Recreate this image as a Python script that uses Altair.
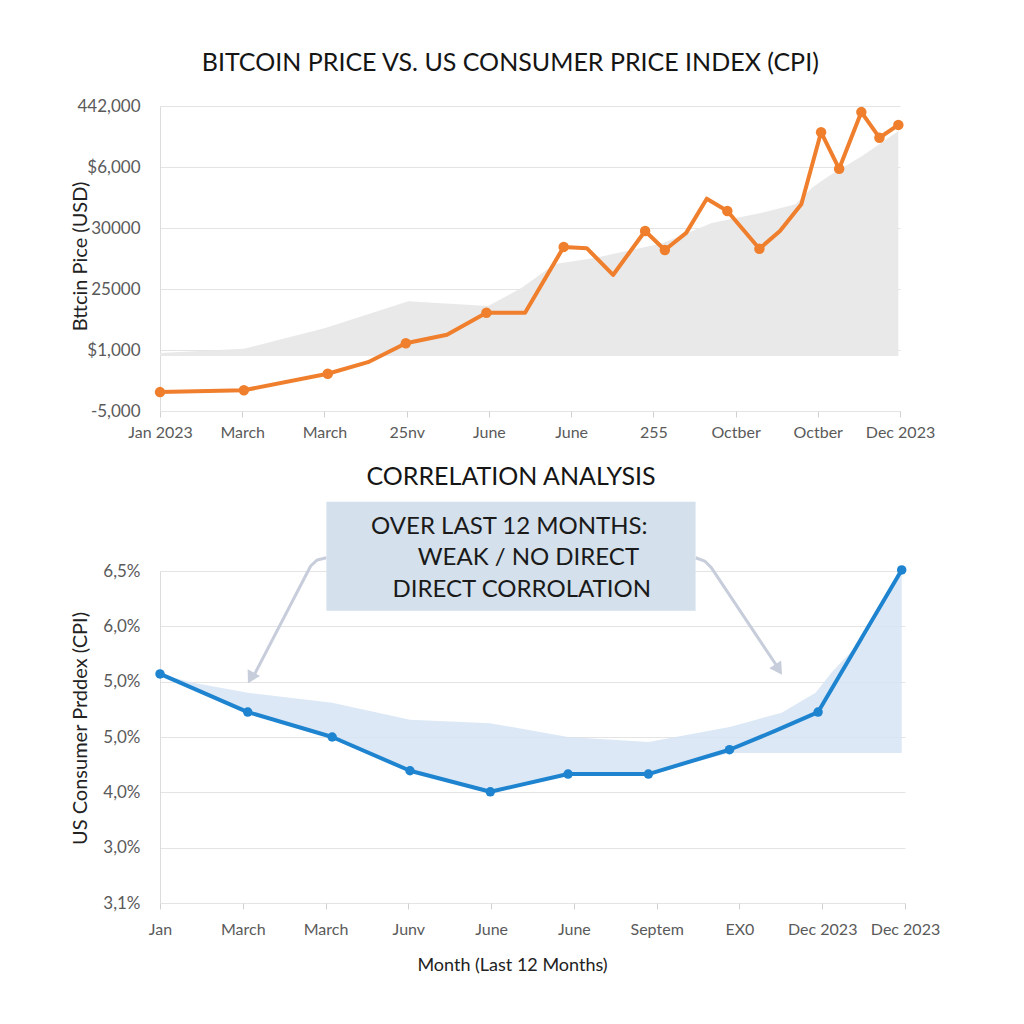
import altair as alt
import pandas as pd

# ---------------- data (positions in axis-index units) ----------------
# top chart: y is measured in tick-index units (0 = "-5,000" ... 5 = "442,000")
top_xlabels = ["Jan 2023", "March", "March", "25nv", "June", "June", "255", "Octber", "Octber", "Dec 2023"]
top_ylabels = ["-5,000", "$1,000", "25000", "30000", "$6,000", "442,000"]

btc_x = [0, 1.02, 2.04, 2.53, 2.99, 3.49, 3.97, 4.44, 4.91, 5.19, 5.51, 5.90, 6.14, 6.40,
         6.65, 6.90, 7.29, 7.54, 7.80, 8.04, 8.26, 8.53, 8.75, 8.98]
btc_y = [0.31, 0.34, 0.61, 0.80, 1.11, 1.25, 1.61, 1.61, 2.69, 2.67, 2.23, 2.95, 2.64, 2.92,
         3.48, 3.28, 2.66, 2.95, 3.39, 4.57, 3.97, 4.90, 4.48, 4.69]
btc_marker = [1, 1, 1, 0, 1, 0, 1, 0, 1, 0, 0, 1, 1, 0,
              0, 1, 1, 0, 0, 1, 1, 1, 1, 1]

grey_x = [0, 1.02, 2.01, 3.02, 3.99, 4.40, 4.80, 5.29, 6.11, 6.71, 7.32, 7.73, 7.93, 8.13, 8.54, 8.98]
grey_top = [0.95, 1.02, 1.36, 1.80, 1.72, 2.02, 2.41, 2.51, 2.75, 3.08, 3.25, 3.39, 3.66, 3.85, 4.18, 4.59]
grey_base = 0.90

# bottom chart: y in tick-index units (0 = "3,1%" ... 6 = "6,5%")
bot_xlabels = ["Jan", "March", "March", "Junv", "June", "June", "Septem", "EX0", "Dec 2023", "Dec 2023"]
bot_ylabels = ["3,1%", "3,0%", "4,0%", "5,0%", "5,0%", "6,0%", "6,5%"]

cpi_x = [0, 1.06, 2.08, 3.02, 3.99, 4.93, 5.90, 6.88, 7.43, 7.95, 8.96]
cpi_y = [4.14, 3.45, 3.00, 2.39, 2.01, 2.33, 2.33, 2.77, 3.11, 3.45, 6.02]
cpi_marker = [1, 1, 1, 1, 1, 1, 1, 1, 0, 1, 1]

band_x = [0, 0.40, 1.06, 2.08, 3.02, 3.99, 4.93, 5.90, 6.88, 7.05, 7.51, 7.92, 8.11, 8.52, 8.96]
band_top = [4.14, 3.98, 3.80, 3.62, 3.31, 3.25, 3.00, 2.91, 3.18, 3.25, 3.44, 3.80, 4.16, 4.81, 5.97]
band_low = [4.14, 3.87, 3.45, 3.00, 2.39, 2.01, 2.33, 2.33, 2.71, 2.71, 2.71, 2.71, 2.71, 2.71, 2.71]

box_lines = ["OVER LAST 12 MONTHS:", "WEAK / NO DIRECT", "DIRECT CORROLATION"]
box_line_x = [4.22, 4.45, 4.37]
box_line_y = [6.80, 6.24, 5.66]
box_x, box_x2, box_y, box_y2 = 2.01, 6.47, 7.25, 5.28

arrow_id = ["L", "L", "L", "L", "R", "R", "R", "R"]
arrow_order = [0, 1, 2, 3, 0, 1, 2, 3]
arrow_x = [2.01, 1.90, 1.82, 1.12, 6.47, 6.58, 6.66, 7.44]
arrow_y = [6.24, 6.20, 6.09, 4.07, 6.24, 6.18, 6.06, 4.31]
head_x = [1.11, 7.46]
head_y = [4.10, 4.25]
head_angle = [208.7, 146.6]

TITLE1 = "BITCOIN PRICE VS. US CONSUMER PRICE INDEX (CPI)"
TITLE2 = "CORRELATION ANALYSIS"

FONT = "Lato"
LABEL_COLOR = "#5a5a5a"
GRID = "#e4e4e4"
ORANGE = "#ef7f2d"
BLUE = "#1f84d0"

# ---------------- top chart ----------------
def lab_expr(labels):
    return "[" + ",".join("'" + s + "'" for s in labels) + "][datum.value]"

x_top = alt.X("x:Q", scale=alt.Scale(domain=[0, 9], nice=False, zero=False),
              axis=alt.Axis(values=list(range(10)), labelExpr=lab_expr(top_xlabels), grid=False,
                            domain=False, ticks=True, tickSize=6, tickColor="#d0d0d0",
                            labelOverlap=False, labelFlush=False, labelFont=FONT, labelFontSize=16,
                            labelColor=LABEL_COLOR, labelPadding=7, title=None))
y_top = alt.Y("y:Q", scale=alt.Scale(domain=[0, 5], nice=False, zero=False),
              axis=alt.Axis(values=list(range(6)), labelExpr=lab_expr(top_ylabels), grid=True,
                            gridColor=GRID, domain=True, domainColor="#dcdcdc", ticks=False,
                            labelPadding=20, labelFont=FONT, labelFontSize=17, labelColor=LABEL_COLOR,
                            title="Bttcin Pice (USD)", titleX=-70, titleY=150, titleAngle=270,
                            titleBaseline="bottom", titleAlign="center", titleFont=FONT,
                            titleFontSize=20, titleFontWeight="normal", titleColor="#222222"))

btc_df = pd.DataFrame({"x": btc_x, "y": btc_y, "m": btc_marker})
grey_df = pd.DataFrame({"x": grey_x, "y": grey_top, "y2": [grey_base] * len(grey_x)})
t1_df = pd.DataFrame({"x": [4.26], "y": [5.70], "t": [TITLE1]})

grey_area = alt.Chart(grey_df).mark_area(color="#e8e8e8", opacity=0.95).encode(
    x=x_top, y=y_top, y2=alt.Y2("y2:Q"))
btc_line = alt.Chart(btc_df).mark_line(color=ORANGE, strokeWidth=4, strokeJoin="round").encode(
    x=x_top, y=y_top)
btc_pts = alt.Chart(btc_df).transform_filter("datum.m == 1").mark_circle(
    color=ORANGE, size=110, opacity=1).encode(x=x_top, y=y_top)
t1 = alt.Chart(t1_df).mark_text(font=FONT, fontSize=25, color="#151515", align="center",
                                baseline="middle").encode(x=x_top, y=y_top, text="t:N")

top = alt.layer(grey_area, btc_line, btc_pts, t1).properties(width=740, height=305)

# ---------------- bottom chart ----------------
x_bot = alt.X("x:Q", scale=alt.Scale(domain=[0, 9], nice=False, zero=False),
              axis=alt.Axis(values=list(range(10)), labelExpr=lab_expr(bot_xlabels), grid=False,
                            domain=False, ticks=True, tickSize=6, tickColor="#d0d0d0",
                            labelOverlap=False, labelFlush=False, labelFont=FONT, labelFontSize=16,
                            labelColor=LABEL_COLOR, labelPadding=12,
                            title="Month (Last 12 Months)", titleX=352, titleY=62,
                            titleAlign="center", titleBaseline="middle", titleFont=FONT,
                            titleFontSize=18, titleFontWeight="normal", titleColor="#222222"))
y_bot = alt.Y("y:Q", scale=alt.Scale(domain=[0, 6], nice=False, zero=False),
              axis=alt.Axis(values=list(range(7)), labelExpr=lab_expr(bot_ylabels), grid=True,
                            gridColor=GRID, domain=True, domainColor="#dcdcdc", ticks=False,
                            labelPadding=20, labelFont=FONT, labelFontSize=17, labelColor=LABEL_COLOR,
                            title="US Consumer Prddex (CPI)", titleX=-70, titleY=157, titleAngle=270,
                            titleBaseline="bottom", titleAlign="center", titleFont=FONT,
                            titleFontSize=20, titleFontWeight="normal", titleColor="#222222"))

cpi_df = pd.DataFrame({"x": cpi_x, "y": cpi_y, "m": cpi_marker})
band_df = pd.DataFrame({"x": band_x, "y": band_top, "y2": band_low})
box_df = pd.DataFrame({"x": [box_x], "x2": [box_x2], "y": [box_y], "y2": [box_y2]})
boxtxt_df = pd.DataFrame({"x": box_line_x, "y": box_line_y, "t": box_lines})
arrow_df = pd.DataFrame({"x": arrow_x, "y": arrow_y, "id": arrow_id, "o": arrow_order})
head_df = pd.DataFrame({"x": head_x, "y": head_y, "a": head_angle})
t2_df = pd.DataFrame({"x": [4.24], "y": [7.69], "t": [TITLE2]})

band = alt.Chart(band_df).mark_area(color="#d6e4f3", opacity=0.85).encode(
    x=x_bot, y=y_bot, y2=alt.Y2("y2:Q"))
cpi_line = alt.Chart(cpi_df).mark_line(color=BLUE, strokeWidth=4, strokeJoin="round").encode(
    x=x_bot, y=y_bot)
cpi_pts = alt.Chart(cpi_df).transform_filter("datum.m == 1").mark_circle(
    color=BLUE, size=90, opacity=1).encode(x=x_bot, y=y_bot)
box = alt.Chart(box_df).mark_rect(color="#d4e0eb").encode(
    x=x_bot, x2=alt.X2("x2:Q"), y=y_bot, y2=alt.Y2("y2:Q"))
box_text = alt.Chart(boxtxt_df).mark_text(font=FONT, fontSize=24, color="#1a1a1a", align="center",
                                          baseline="middle").encode(x=x_bot, y=y_bot, text="t:N")
arrows = alt.Chart(arrow_df).mark_line(color="#c7cddb", strokeWidth=3, strokeJoin="round").encode(
    x=x_bot, y=y_bot, detail="id:N", order="o:Q")
heads = alt.Chart(head_df).mark_point(shape="triangle", filled=True, size=200, color="#c7cddb",
                                      opacity=1).encode(x=x_bot, y=y_bot, angle=alt.Angle("a:Q", scale=None))
t2 = alt.Chart(t2_df).mark_text(font=FONT, fontSize=25, color="#151515", align="center",
                                baseline="middle").encode(x=x_bot, y=y_bot, text="t:N")

bottom = alt.layer(band, cpi_line, cpi_pts, arrows, heads, box, box_text, t2).properties(
    width=745, height=332)

chart = alt.vconcat(top, bottom, spacing=25).properties(
    padding={"left": 70, "top": 51, "right": 10, "bottom": 10},
    background="white",
).configure_view(stroke=None)

chart.save("out.html", embed_options={"renderer": "svg", "actions": False})
